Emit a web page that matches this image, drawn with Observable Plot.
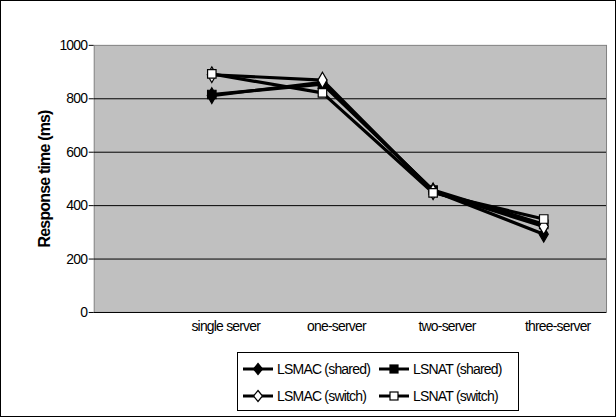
<!DOCTYPE html>
<html>
<head>
<meta charset="utf-8">
<script src="https://cdn.jsdelivr.net/npm/d3@7"></script>
<script src="https://cdn.jsdelivr.net/npm/@observablehq/plot@0.6"></script>
<style>
  html, body { margin: 0; padding: 0; background: #fff; }
  #wrap { position: relative; width: 614px; height: 415px; border: 1px solid #000; overflow: hidden; font-family: "Liberation Sans", Arial, sans-serif; }
  #chart { position: absolute; left: 0; top: 0; }
  #legend { position: absolute; left: 236px; top: 351px; width: 282px; height: 59px; border: 1px solid #000; background: #fff; box-sizing: border-box; font-size: 14px; letter-spacing: -0.8px; }
  .item { position: absolute; display: flex; align-items: center; height: 20px; }
  .item svg { margin-right: 4px; }
</style>
</head>
<body>
<div id="wrap">
  <div id="chart"></div>
  <div id="legend"></div>
</div>
<script>
const categories = ["single server", "one-server", "two-server", "three-server"];
const seriesNames = ["LSMAC (shared)", "LSNAT (shared)", "LSMAC (switch)", "LSNAT (switch)"];
const lsmacShared = [812, 862, 455, 293];
const lsnatShared = [816, 855, 458, 330];
const lsmacSwitch = [890, 870, 452, 322];
const lsnatSwitch = [893, 822, 448, 350];
const yTicks = [0, 200, 400, 600, 800, 1000];

const seriesValues = [lsmacShared, lsnatShared, lsmacSwitch, lsnatSwitch];
const symbols = ["diamond", "square", "diamond", "square"];
const fills = ["black", "black", "white", "white"];

const data = [];
seriesNames.forEach((s, i) => categories.forEach((c, j) => data.push({series: s, cat: c, v: seriesValues[i][j], idx: i})));

const marks = [
  Plot.frame({fill: "#c0c0c0", stroke: "#808080"}),
  Plot.ruleY(yTicks.filter(d => d > 0 && d < 1000), {stroke: "black", strokeWidth: 1}),
  Plot.ruleY([0], {stroke: "black"}),
  Plot.axisY({ticks: yTicks, tickFormat: d => String(d), tickSize: 5, tickPadding: 2, line: true, label: null, fontSize: 14}),
  Plot.axisX({tickSize: 0, tickPadding: 9, label: null, fontSize: 14, dx: 14}),
  Plot.text(["Response time (ms)"], {frameAnchor: "left", textAnchor: "middle", rotate: -90, dx: -49, fontWeight: "bold", fontSize: 16})
];
seriesNames.forEach((s, i) => {
  const d = data.filter(r => r.idx === i);
  marks.push(Plot.line(d, {x: "cat", y: "v", stroke: "black", strokeWidth: 3.2}));
  marks.push(Plot.dot(d, {x: "cat", y: "v", symbol: symbols[i], r: 4.8, fill: fills[i], stroke: "black", strokeWidth: 1.2}));
});

const chart = Plot.plot({
  width: 616,
  height: 345,
  marginLeft: 93,
  marginRight: 9,
  marginTop: 44,
  marginBottom: 33,
  style: {fontFamily: "Liberation Sans, Arial, sans-serif", fontSize: "14px", letterSpacing: "-0.8px", background: "transparent"},
  x: {type: "point", domain: categories, range: [210, 545], padding: 0, axis: null},
  y: {domain: [0, 1000], axis: null},
  marks
});
document.getElementById("chart").appendChild(chart);

// legend
const legend = document.getElementById("legend");
const pos = [[5, 16], [141, 16], [5, 43], [141, 43]];
seriesNames.forEach((s, i) => {
  const div = document.createElement("div");
  div.className = "item";
  div.style.left = pos[i][0] + "px";
  div.style.top = (pos[i][1] - 10) + "px";
  const sym = symbols[i] === "diamond"
    ? `<path d="M15,4.5 L19.5,10 L15,15.5 L10.5,10 Z" fill="${fills[i]}" stroke="black" stroke-width="1.2"/>`
    : `<rect x="11" y="6" width="8" height="8" fill="${fills[i]}" stroke="black" stroke-width="1.2"/>`;
  div.innerHTML = `<svg width="30" height="20"><line x1="0" x2="30" y1="10" y2="10" stroke="black" stroke-width="3"/>${sym}</svg><span>${s}</span>`;
  legend.appendChild(div);
});
</script>
</body>
</html>
